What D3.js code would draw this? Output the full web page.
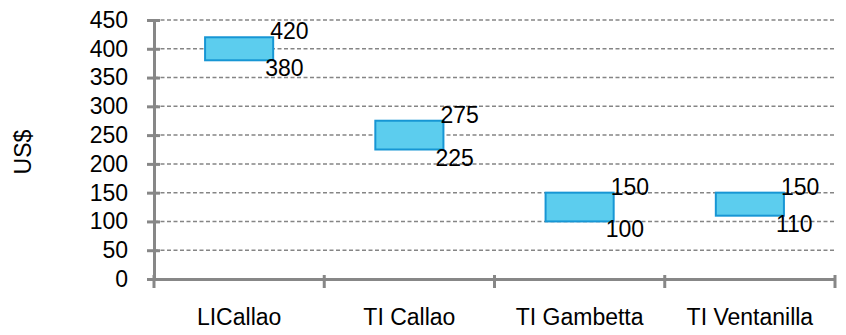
<!DOCTYPE html>
<html>
<head>
<meta charset="utf-8">
<script src="https://cdn.jsdelivr.net/npm/d3@7"></script>
<style>
  html, body { margin: 0; padding: 0; background: #fff; }
  text { font-family: "Liberation Sans", Arial, sans-serif; fill: #000; }
</style>
</head>
<body>
<svg id="chart" width="846" height="335"></svg>
<script>
// Price ranges (US$) per location
const categories = ["LICallao", "TI Callao", "TI Gambetta", "TI Ventanilla"];
const lowValues  = [380, 225, 100, 110];
const highValues = [420, 275, 150, 150];
const yTicks     = [0, 50, 100, 150, 200, 250, 300, 350, 400, 450];

const svg = d3.select("#chart");
const plotLeft = 154, plotRight = 835, plotTop = 20, plotBottom = 279;
const fontSize = 23;
const axisColor = "#878787";

const x = d3.scaleBand().domain(categories).range([plotLeft, plotRight]).paddingInner(0).paddingOuter(0);
const y = d3.scaleLinear().domain([0, 450]).range([plotBottom, plotTop]);

// dashed horizontal grid lines
svg.append("g")
  .selectAll("line")
  .data(yTicks.filter(d => d > 0))
  .join("line")
  .attr("x1", plotLeft).attr("x2", plotRight)
  .attr("y1", d => y(d)).attr("y2", d => y(d))
  .attr("stroke", "#858585")
  .attr("stroke-width", 1.5)
  .attr("stroke-dasharray", "4,2.5");

// y axis
const yAxis = svg.append("g")
  .attr("transform", `translate(${plotLeft},0)`)
  .call(d3.axisLeft(y).tickValues(yTicks).tickSize(0).tickPadding(26));
yAxis.select(".domain").attr("stroke", axisColor).attr("stroke-width", 3);
yAxis.selectAll("text").attr("font-size", fontSize).style("font-family", "Liberation Sans, Arial, sans-serif").attr("fill", "#000");
yAxis.selectAll(".tick").append("line")
  .attr("x1", -7).attr("x2", 6)
  .attr("stroke", axisColor).attr("stroke-width", 3);

// x axis
const xAxis = svg.append("g")
  .attr("transform", `translate(0,${plotBottom})`)
  .call(d3.axisBottom(x).tickSize(0).tickPadding(30));
xAxis.select(".domain").attr("stroke", axisColor).attr("stroke-width", 3);
xAxis.selectAll("text").attr("font-size", fontSize).style("font-family", "Liberation Sans, Arial, sans-serif").attr("fill", "#000");
// category boundary ticks
const bounds = categories.map(c => x(c)).concat([x(categories[categories.length - 1]) + x.bandwidth()]);
xAxis.append("g").selectAll("line")
  .data(bounds)
  .join("line")
  .attr("x1", d => d).attr("x2", d => d)
  .attr("y1", -4).attr("y2", 9)
  .attr("stroke", axisColor).attr("stroke-width", 3);

// y axis title
svg.append("text")
  .attr("transform", `translate(31,152) rotate(-90)`)
  .attr("text-anchor", "middle")
  .attr("font-size", fontSize)
  .text("US$");

// range boxes
const boxW = x.bandwidth() * 0.4;
const rows = categories.map((c, i) => ({ c, lo: lowValues[i], hi: highValues[i] }));

svg.append("g")
  .selectAll("rect")
  .data(rows)
  .join("rect")
  .attr("x", d => x(d.c) + x.bandwidth() / 2 - boxW / 2)
  .attr("width", boxW)
  .attr("y", d => y(d.hi))
  .attr("height", d => y(d.lo) - y(d.hi))
  .attr("fill", "#5ccdee")
  .attr("stroke", "#1796d4")
  .attr("stroke-width", 2);

// value labels
const labels = svg.append("g");
labels.selectAll("text.hi")
  .data(rows)
  .join("text")
  .attr("class", "hi")
  .attr("x", d => x(d.c) + x.bandwidth() / 2 + boxW / 2 - 3)
  .attr("y", d => y(d.hi) + 2)
  .attr("font-size", fontSize)
  .text(d => d.hi);
labels.selectAll("text.lo")
  .data(rows)
  .join("text")
  .attr("class", "lo")
  .attr("x", d => x(d.c) + x.bandwidth() / 2 + boxW / 2 - 8)
  .attr("y", d => y(d.lo) + 16)
  .attr("font-size", fontSize)
  .text(d => d.lo);
</script>
</body>
</html>
